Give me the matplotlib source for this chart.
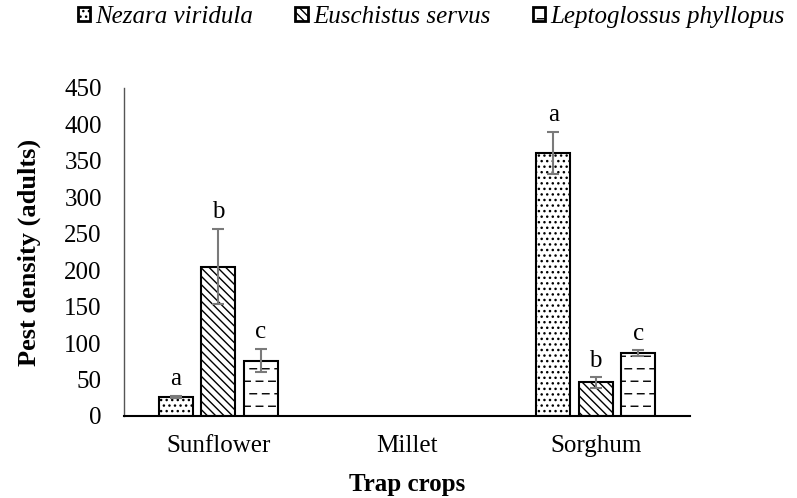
import numpy as np
import matplotlib
matplotlib.use("Agg")
import matplotlib.pyplot as plt
from matplotlib import hatch as mhatch
from matplotlib.path import Path
from matplotlib.patches import Patch

plt.rcParams["font.family"] = ["Liberation Serif", "DejaVu Serif"]
plt.rcParams["hatch.linewidth"] = 1.0


# hachura "-" com tracinhos (como no Excel) em vez de linhas contínuas
class DashedHatch(mhatch.HatchPatternBase):
    def __init__(self, hatch, density):
        self.num_lines = hatch.count('-') * 8
        self.num_dashes = 8
        self.num_vertices = self.num_lines * self.num_dashes * 2

    def set_vertices_and_codes(self, vertices, codes):
        ys = (np.arange(self.num_lines) + 0.5) / max(self.num_lines, 1)
        k = 0
        for r, y in enumerate(ys):
            shift = 0.5 / self.num_dashes if r % 2 else 0.0
            for d in range(self.num_dashes):
                x0 = d / self.num_dashes + shift
                vertices[k] = (x0, y)
                vertices[k + 1] = (x0 + 0.065, y)
                codes[k] = Path.MOVETO
                codes[k + 1] = Path.LINETO
                k += 2


mhatch._hatch_types = [DashedHatch if t is mhatch.HorizontalHatch else t
                       for t in mhatch._hatch_types]

crops = ["Sunflower", "Millet", "Sorghum"]
species = ["Nezara viridula", "Euschistus servus", "Leptoglossus phyllopus"]

# valores (Millet = 0)
nezara = [26, 0, 361]
euschistus = [205, 0, 46]
leptoglossus = [76, 0, 86]
nezara_err = [2, 0, 29]
euschistus_err = [52, 0, 7]
leptoglossus_err = [16, 0, 4]

nezara_lbl = ["a", "", "a"]
euschistus_lbl = ["b", "", "b"]
leptoglossus_lbl = ["c", "", "c"]

series = [nezara, euschistus, leptoglossus]
errors = [nezara_err, euschistus_err, leptoglossus_err]
letters = [nezara_lbl, euschistus_lbl, leptoglossus_lbl]
hatches = ["...", "\\\\\\\\", "-"]

fig = plt.figure(figsize=(7.97, 4.98), dpi=100)
ax = fig.add_axes([0.1556, 0.1647, 0.7101, 0.6586])

x = np.arange(len(crops))
w = 0.18
step = 0.225

for i in range(3):
    pos = x + (i - 1) * step
    vals = series[i]
    for j in range(len(crops)):
        if vals[j] == 0:
            continue
        ax.bar(pos[j], vals[j], width=w, color="white", edgecolor="black",
               linewidth=1.5, hatch=hatches[i], zorder=2)
        ax.errorbar(pos[j], vals[j], yerr=errors[i][j], color="#7a7a7a",
                    elinewidth=1.5, capsize=4, capthick=1.5, zorder=3)
        ax.annotate(letters[i][j], (pos[j], vals[j] + errors[i][j]),
                    xytext=(0, 4), textcoords="offset points",
                    ha="center", va="bottom", fontsize=18)

ax.set_xlim(-0.5, 2.5)
ax.set_ylim(0, 450)
ax.set_yticks(np.arange(0, 451, 50))
ax.set_xticks(x)
ax.set_xticklabels(crops)
ax.tick_params(axis="both", length=0, labelsize=18)
ax.tick_params(axis="y", pad=16)
ax.tick_params(axis="x", pad=14)

for s in ["top", "right"]:
    ax.spines[s].set_visible(False)
ax.spines["left"].set_color("#555555")
ax.spines["left"].set_linewidth(1.0)
ax.spines["bottom"].set_linewidth(1.5)

ax.set_ylabel("Pest density (adults)", fontsize=19, fontweight="bold", labelpad=17)
ax.set_xlabel("Trap crops", fontsize=18, fontweight="bold", labelpad=11)

handles = [Patch(facecolor="white", edgecolor="black", hatch=h, linewidth=2)
           for h in hatches]
fig.legend(handles, species, loc="center", bbox_to_anchor=(0.541, 0.966),
           ncol=3, frameon=False, handlelength=0.5, handleheight=0.5,
           handletextpad=0.2, columnspacing=1.7,
           prop={"style": "italic", "size": 18})

fig.savefig("out.png", dpi=100)
